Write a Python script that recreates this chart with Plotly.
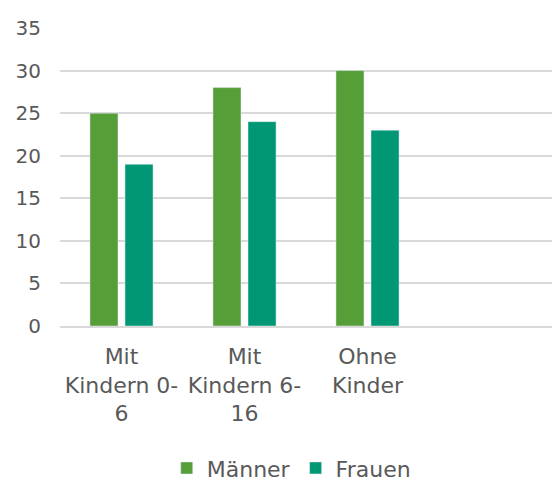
import plotly.graph_objects as go

categories = ["Mit<br>Kindern 0-<br>6", "Mit<br>Kindern 6-<br>16", "Ohne<br>Kinder", " "]
maenner = [25, 28, 30, None]
frauen = [19, 24, 23, None]

fig = go.Figure()
fig.add_trace(go.Bar(name="Männer", x=categories, y=maenner, marker_color="#559e38"))
fig.add_trace(go.Bar(name="Frauen", x=categories, y=frauen, marker_color="#009774"))

font = "'DejaVu Sans', sans-serif"
fig.update_layout(
    width=552, height=481,
    margin=dict(l=60, r=0, t=28, b=155, autoexpand=False),
    paper_bgcolor="white", plot_bgcolor="white",
    barmode="group", bargap=0.43, bargroupgap=0.2,
    font=dict(family=font, size=20, color="#595959"),
    showlegend=True,
    legend=dict(orientation="h", xref="paper", yref="paper",
                x=0.47, y=-0.477, xanchor="center", yanchor="middle",
                font=dict(size=22, color="#595959"), itemwidth=30),
    xaxis=dict(type="category", categoryorder="array", categoryarray=categories,
               range=[-0.5, 3.5], showline=True, linecolor="#d9d9d9", linewidth=1.5,
               ticks="", automargin=False, ticklabelstandoff=10,
               tickfont=dict(size=22, color="#595959")),
    yaxis=dict(range=[0, 35], dtick=5, showgrid=True, gridcolor="#d9d9d9", gridwidth=1.5,
               zeroline=False, ticks="", ticklabelstandoff=18, automargin=False,
               tickfont=dict(size=20, color="#595959")),
)
fig.write_html("out.html", config={"displayModeBar": False},
               post_script="document.body.style.margin='0';document.body.style.overflow='hidden';")
